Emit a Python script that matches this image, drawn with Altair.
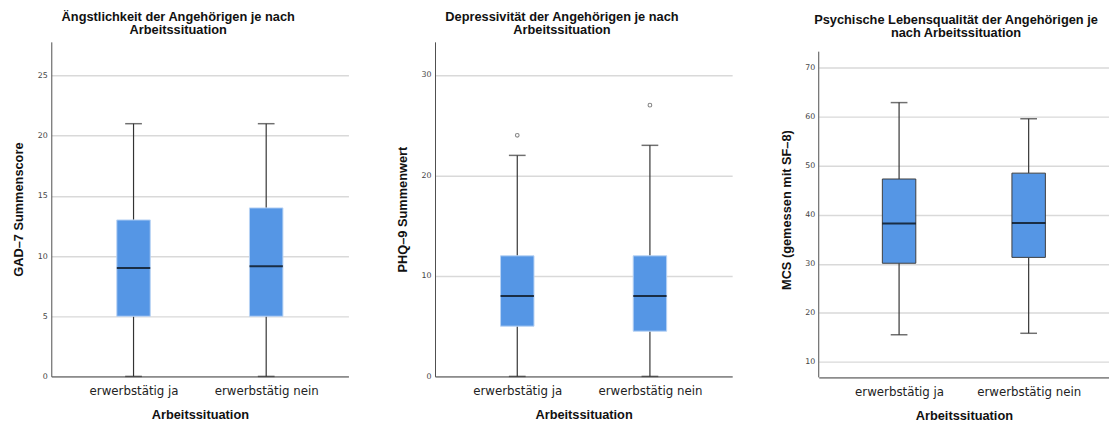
import altair as alt
import pandas as pd

groups = ["erwerbstätig ja", "erwerbstätig nein"]

# GAD-7
gad_low = [0, 0]
gad_q1 = [5, 5]
gad_med = [9, 9.15]
gad_q3 = [13, 14]
gad_high = [21, 21]
gad_out_group = []
gad_out = []

# PHQ-9
phq_low = [0, 0]
phq_q1 = [5, 4.5]
phq_med = [8, 8]
phq_q3 = [12, 12]
phq_high = [22, 23]
phq_out_group = ["erwerbstätig ja", "erwerbstätig nein"]
phq_out = [24, 27]

# MCS
mcs_low = [15.5, 15.8]
mcs_q1 = [30.1, 31.3]
mcs_med = [38.2, 38.3]
mcs_q3 = [47.3, 48.5]
mcs_high = [62.9, 59.6]
mcs_out_group = []
mcs_out = []

BOX_FILL = "#5596e5"
FONT_T = "Liberation Sans"
FONT_L = "DejaVu Sans"
AXIS_COLOR = "#4d4d4d"


def panel(low, q1, med, q3, high, og, ov, title, ytitle, domain, ticks,
          width, height, box_stroke, title_dx, title_offset, axis_span=None):
    df = pd.DataFrame({"group": groups, "low": low, "q1": q1, "med": med,
                       "q3": q3, "high": high})
    x = alt.X("group:N", sort=groups,
              scale=alt.Scale(type="point", padding=0.62),
              axis=alt.Axis(title="Arbeitssituation", labelAngle=0, ticks=False,
                            domainColor="#8c8c8c", domainWidth=2,
                            labelFont=FONT_L, labelFontSize=12, labelColor="#222",
                            labelPadding=9, titleFont=FONT_T, titleFontSize=13,
                            titleFontWeight="bold", titleColor="#111",
                            titlePadding=13))
    scale = alt.Scale(domain=domain, nice=False, zero=False)
    axis = alt.Axis(title=ytitle, values=ticks, grid=True, gridColor="#d9d9d9",
                    gridWidth=1.5, ticks=False, domain=axis_span is None,
                    domainColor=AXIS_COLOR,
                    domainWidth=1, labelFont=FONT_L, labelFontSize=8,
                    labelColor="#444", labelPadding=4, titleFont=FONT_T,
                    titleFontSize=13, titleFontWeight="bold", titleColor="#111",
                    titlePadding=12)

    def Y(f):
        return alt.Y(f"{f}:Q", scale=scale, axis=axis)

    base = alt.Chart(df)
    w_lo = base.mark_rule(color="#333", strokeWidth=1.2).encode(x=x, y=Y("low"), y2="q1:Q")
    w_hi = base.mark_rule(color="#333", strokeWidth=1.2).encode(x=x, y=Y("q3"), y2="high:Q")
    box = base.mark_bar(size=34, color=BOX_FILL, stroke=box_stroke,
                        strokeWidth=1).encode(x=x, y=Y("q1"), y2="q3:Q")
    medt = base.mark_tick(size=34, thickness=2, color="#000").encode(x=x, y=Y("med"))
    cap_lo = base.mark_tick(size=17, thickness=1.5, color="#333").encode(x=x, y=Y("low"))
    cap_hi = base.mark_tick(size=17, thickness=1.5, color="#333").encode(x=x, y=Y("high"))
    layers = [w_lo, w_hi, box, medt, cap_lo, cap_hi]
    if axis_span is not None:
        adf = pd.DataFrame({"a0": [axis_span[0]], "a1": [axis_span[1]]})
        aline = alt.Chart(adf).mark_rule(color=AXIS_COLOR, strokeWidth=1).encode(
            x=alt.value(0), y=alt.Y("a0:Q", scale=scale, axis=axis), y2="a1:Q")
        layers.insert(0, aline)
    if ov:
        odf = pd.DataFrame({"group": og, "val": ov})
        pts = alt.Chart(odf).mark_point(shape="circle", size=14, filled=False,
                                        color="#555", strokeWidth=1.1).encode(
            x=x, y=alt.Y("val:Q", scale=scale, axis=axis))
        layers.append(pts)
    return alt.layer(*layers).properties(
        width=width, height=height,
        title=alt.TitleParams(text=title, font=FONT_T, fontSize=13,
                              fontWeight="bold", color="#111", anchor="middle",
                              frame="group", dx=title_dx, lineHeight=13,
                              offset=title_offset))


p1 = panel(gad_low, gad_q1, gad_med, gad_q3, gad_high, gad_out_group, gad_out,
           ["Ängstlichkeit der Angehörigen je nach", "Arbeitssituation"],
           "GAD–7 Summenscore", [0, 27.8], [0, 5, 10, 15, 20, 25],
           302, 340, "#b8d2f4", -22, 5)
p2 = panel(phq_low, phq_q1, phq_med, phq_q3, phq_high, phq_out_group, phq_out,
           ["Depressivität der Angehörigen je nach", "Arbeitssituation"],
           "PHQ–9 Summenwert", [0, 33.3], [0, 10, 20, 30],
           302, 340, "#b8d2f4", -22, 5)
p3 = panel(mcs_low, mcs_q1, mcs_med, mcs_q3, mcs_high, mcs_out_group, mcs_out,
           ["Psychische Lebensqualität der Angehörigen je", "nach Arbeitssituation"],
           "MCS (gemessen mit SF–8)", [6.8, 75.3], [10, 20, 30, 40, 50, 60, 70],
           295, 341, "#3c3c3c", -8, 2, axis_span=[6.8, 73.3])

chart = alt.hconcat(p1, p2, p3, spacing=48).properties(
    background="white",
    padding={"left": 4, "top": 0, "right": 0, "bottom": 0}
).configure_view(strokeWidth=0)

chart.save("out.html", embed_options={"renderer": "svg", "actions": False})
